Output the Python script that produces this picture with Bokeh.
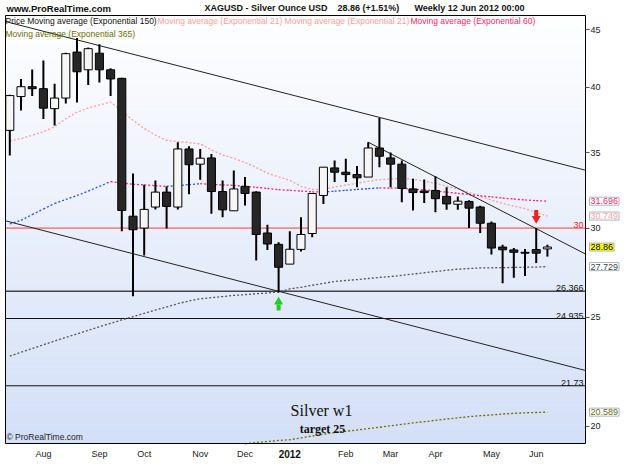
import math
import numpy as np
from bokeh.plotting import figure
from bokeh.models import Range1d, FixedTicker, PrintfTickFormatter, Label, LinearAxis, LogAxis
from bokeh.embed import file_html
from bokeh.resources import INLINE

# ---------------- data (weekly XAGUSD, Jul 11 2011 .. Jun 11 2012) ----------------
week_index = list(range(49))
opens = [36.64, 39.26, 40.06, 39.90, 38.30, 39.14, 43.00, 41.47, 42.90, 41.47,
         40.75, 30.74, 30.00, 31.32, 32.29, 31.32, 35.27, 34.19, 34.63, 32.33,
         31.08, 32.67, 32.29, 29.70, 29.02, 27.87, 28.72, 29.67, 32.07, 33.93,
         33.63, 33.47, 33.30, 35.34, 34.63, 34.19, 32.50, 32.36, 32.40, 32.01,
         31.50, 31.68, 31.32, 30.30, 28.86, 28.69, 28.55, 28.71, 28.75]
highs = [39.40, 40.70, 41.50, 42.26, 40.30, 42.95, 44.25, 43.40, 43.70, 41.60,
         40.80, 33.55, 32.78, 33.07, 32.67, 35.76, 35.46, 35.27, 34.90, 33.07,
         33.75, 33.30, 32.35, 30.20, 29.14, 29.80, 30.67, 32.20, 33.98, 34.45,
         34.57, 34.06, 35.76, 37.58, 35.02, 34.45, 33.18, 33.13, 33.35, 32.62,
         32.00, 31.75, 31.40, 30.41, 28.99, 28.80, 28.75, 30.00, 29.00]
lows = [34.80, 38.16, 39.30, 37.50, 37.00, 38.70, 38.78, 40.20, 40.40, 39.30,
        29.80, 26.10, 28.37, 31.17, 29.97, 31.17, 32.15, 33.12, 30.90, 30.67,
        31.08, 31.42, 28.08, 28.69, 26.30, 27.87, 28.60, 29.45, 31.52, 32.96,
        32.96, 32.62, 33.30, 33.98, 32.62, 31.63, 31.10, 31.58, 30.99, 31.14,
        31.15, 30.00, 29.70, 28.42, 26.80, 27.10, 27.20, 27.93, 28.30]
closes = [39.34, 40.06, 39.90, 38.34, 39.14, 42.86, 41.30, 43.30, 41.47, 40.70,
          31.10, 29.90, 31.17, 32.29, 31.36, 35.27, 34.15, 34.61, 32.33, 31.14,
          32.50, 32.20, 29.61, 29.04, 27.69, 28.73, 29.61, 32.20, 33.98, 33.63,
          33.47, 33.25, 35.34, 34.75, 34.19, 32.53, 32.26, 32.26, 31.86, 31.52,
          31.70, 31.25, 30.30, 28.80, 28.70, 28.55, 28.50, 28.50, 28.86]

ema21 = [35.85, 36.02, 36.28, 36.54, 36.91, 37.52, 38.02, 38.35, 38.59, 38.81,
         38.12, 37.40, 36.78, 36.28, 35.90, 35.81, 35.74, 35.64, 35.20, 34.84,
         34.60, 34.31, 33.96, 33.57, 33.32, 33.08, 32.68, 32.47, 32.48, 32.63,
         32.76, 32.88, 33.02, 33.12, 33.17, 33.22, 33.15, 33.02, 32.88, 32.68,
         32.49, 32.27, 32.02, 31.77, 31.55, 31.38, 31.22, 30.96, 30.749]
ema60 = [30.26, 30.48, 30.84, 31.19, 31.55, 31.81, 32.07, 32.36, 32.67, 33.00,
         32.89, 32.82, 32.77, 32.72, 32.67, 32.72, 32.79, 32.85, 32.81, 32.77,
         32.74, 32.67, 32.61, 32.53, 32.45, 32.41, 32.36, 32.31, 32.30, 32.35,
         32.41, 32.47, 32.52, 32.57, 32.56, 32.54, 32.49, 32.43, 32.37, 32.29,
         32.21, 32.13, 32.05, 31.98, 31.90, 31.84, 31.78, 31.73, 31.696]
ema150 = [23.09, 23.27, 23.45, 23.63, 23.81, 23.99, 24.16, 24.34, 24.52, 24.69,
          24.86, 25.03, 25.20, 25.37, 25.53, 25.70, 25.85, 25.96, 26.02, 26.08,
          26.14, 26.18, 26.23, 26.27, 26.33, 26.49, 26.58, 26.69, 26.79, 26.90,
          26.95, 27.00, 27.06, 27.12, 27.17, 27.23, 27.31, 27.38, 27.45, 27.52,
          27.58, 27.62, 27.65, 27.66, 27.67, 27.68, 27.69, 27.70, 27.729]
ema365_index = list(range(21, 49))
ema365 = [19.30, 19.35, 19.39, 19.43, 19.46, 19.53, 19.61, 19.68, 19.75, 19.80,
          19.85, 19.91, 19.96, 20.02, 20.08, 20.14, 20.19, 20.25, 20.30, 20.35,
          20.40, 20.44, 20.47, 20.51, 20.54, 20.56, 20.575, 20.589]

levels = [30.0, 26.366, 24.935, 21.73]
level_labels = ["30", "26.366", "24.935", "21.73"]

trend_upper_x = [-0.384, 51.4]
trend_upper_y = [45.77, 33.77]
trend_lower_x = [-0.384, 51.4]
trend_lower_y = [30.45, 22.42]
trend_feb_x = [32, 51.4]
trend_feb_y = [35.76, 28.45]

month_ticks = [3, 8, 12, 17, 21, 25, 30, 34, 38, 43, 47]
month_labels = ["Aug", "Sep", "Oct", "Nov", "Dec", "2012", "Feb", "Mar", "Apr", "May", "Jun"]
y_ticks = [20, 25, 30, 35, 40, 45]

last_close = 28.86
arrow_down_week = 47
arrow_up_week = 24

header_site = "www.ProRealTime.com"
header_parts = ["XAGUSD - Silver Ounce USD", "28.86 (+1.51%)", "Weekly  12 Jun 2012 00:00"]

# ---------------- layout helpers ----------------
W, H = 625, 469
FL, FR, FT, FB = 5, 585, 15, 443          # visible chart box (pixels)
X0, XE = -0.384, 51.4                      # data x at FL / FR
Y0, Y1 = 19.31, 46.34                      # data y at FB / FT
SX = (XE - X0) / (FR - FL)
LN0, LN1 = math.log(Y0), math.log(Y1)
K = (LN1 - LN0) / (FB - FT)


def px_x(px):
    return X0 + (px - FL) * SX


def py_y(py):
    return math.exp(LN1 - (py - FT) * K)


FONT = "Liberation Sans"

p = figure(width=W, height=H,
           x_range=Range1d(px_x(0), px_x(W)), y_range=Range1d(py_y(H), py_y(0)),
           y_axis_type="log", x_axis_location=None, y_axis_location=None,
           output_backend="svg", toolbar_location=None,
           min_border_left=0, min_border_right=0, min_border_top=0, min_border_bottom=0)
p.outline_line_color = None
p.xgrid.visible = False
p.ygrid.visible = False
p.border_fill_color = "white"
p.background_fill_color = "white"

# background gradient inside the chart box
n = 90
edges = np.linspace(FT, FB, n + 1)
top_c = np.array([255, 255, 255])
bot_c = np.array([212, 224, 248])
bands_top = [py_y(e) for e in edges[:-1]]
bands_bot = [py_y(e) for e in edges[1:]]
cols = []
for k in range(n):
    t = (k + 0.5) / n
    c = (top_c * (1 - t) + bot_c * t).astype(int)
    cols.append("#%02x%02x%02x" % tuple(c))
p.quad(left=X0, right=XE, bottom=bands_bot, top=bands_top,
       fill_color=cols, line_color=cols, line_width=0.5, level="image")

# horizontal levels
p.segment(x0=[X0] * len(levels), y0=levels, x1=[XE] * len(levels), y1=levels,
          line_color=["#ff3b3b", "#444444", "#111111", "#111111"],
          line_width=[1, 1.6, 1, 1], level="underlay")

# moving averages
p.line(week_index, ema21, line_color="#ff9c9c", line_width=1.3, line_dash="2 2")
p.line(week_index, ema150, line_color="#555555", line_width=1.3, line_dash="2 2")
p.line(ema365_index, ema365, line_color="#6e6e00", line_width=1.3, line_dash="2 2")
seg_cols = ["#2a4dff" if ema60[i + 1] > ema60[i] else "#ff1f6e" for i in range(len(ema60) - 1)]
p.segment(x0=week_index[:-1], y0=ema60[:-1], x1=week_index[1:], y1=ema60[1:],
          line_color=seg_cols, line_width=1.3, line_dash="2 2")

# trend lines
for tx, ty in [(trend_upper_x, trend_upper_y), (trend_lower_x, trend_lower_y),
               (trend_feb_x, trend_feb_y)]:
    p.line(tx, ty, line_color="#222222", line_width=1)

# candles
p.segment(x0=week_index, y0=lows, x1=week_index, y1=highs, line_color="black", line_width=2)
body_top = [max(o, c) for o, c in zip(opens, closes)]
body_bot = [min(o, c) for o, c in zip(opens, closes)]
body_fill = ["#f6f6f6" if c >= o else "#262626" for o, c in zip(opens, closes)]
p.vbar(x=week_index, width=0.72, top=body_top, bottom=body_bot,
       fill_color=body_fill, line_color="black", line_width=1)

# arrows
hi = highs[arrow_down_week]
lo = lows[arrow_up_week]
p.rect(x=[arrow_down_week], y=[hi * math.exp(K * 15)], width=4, height=6,
       width_units="screen", height_units="screen", fill_color="#ee2020", line_color=None)
p.scatter(x=[arrow_down_week], y=[hi * math.exp(K * 9.5)], marker="inverted_triangle",
          size=9, fill_color="#ee2020", line_color=None)
p.rect(x=[arrow_up_week], y=[lo * math.exp(-K * 15)], width=4, height=6,
       width_units="screen", height_units="screen", fill_color="#22cc22", line_color=None)
p.scatter(x=[arrow_up_week], y=[lo * math.exp(-K * 9.5)], marker="triangle",
          size=9, fill_color="#22cc22", line_color=None)

# chart box border
p.quad(left=[X0], right=[XE], bottom=[Y0], top=[Y1], fill_color=None,
       line_color="black", line_width=1)

# axes (pinned to the chart box edges)
yax = LogAxis(fixed_location=XE, ticker=FixedTicker(ticks=y_ticks),
              formatter=PrintfTickFormatter(format="%d"))
yax.minor_tick_line_color = None
yax.major_tick_in = 0
yax.major_tick_out = 4
yax.major_tick_line_color = "#555555"
yax.axis_line_color = None
yax.major_label_text_font = FONT
yax.major_label_text_font_size = "9px"
yax.major_label_text_color = "#222222"
yax.major_label_standoff = 1
p.add_layout(yax, "right")

xax = LinearAxis(fixed_location=Y0, ticker=FixedTicker(ticks=month_ticks))
xax.major_label_overrides = {t: ("" if l == "2012" else l) for t, l in zip(month_ticks, month_labels)}
xax.minor_tick_line_color = None
xax.major_tick_in = 0
xax.major_tick_out = 0
xax.axis_line_color = None
xax.major_label_text_font = FONT
xax.major_label_text_font_size = "9px"
xax.major_label_text_color = "#222222"
xax.major_label_standoff = 5
p.add_layout(xax, "below")

for t, l in zip(month_ticks, month_labels):
    if l == "2012":
        p.add_layout(Label(x=t, y=py_y(453.5), text=l, text_align="center", text_baseline="middle",
                           text_font=FONT, text_font_size="10px", text_font_style="bold",
                           text_color="#111111"))

# level labels inside the chart box
lvl_cols = ["#ff2020", "#111111", "#111111", "#111111"]
for lv, lt, lc in zip(levels, level_labels, lvl_cols):
    p.add_layout(Label(x=px_x(583), y=lv, text=lt, text_align="right", text_baseline="bottom",
                       text_font=FONT, text_font_size="9px", text_color=lc))

# value boxes right of the chart box
boxes = [(ema60[-1], "#ff1f6e", "white"), (ema21[-1], "#ff9c9c", "white"),
         (last_close, "#000000", "#ffff00"), (ema150[-1], "#444444", "white"),
         (ema365[-1], "#6e6e00", "white")]
for v, tc, bg in boxes:
    p.add_layout(Label(x=px_x(589), y=v, text="%g" % v, text_align="left", text_baseline="middle",
                       text_font=FONT, text_font_size="9px", text_color=tc,
                       background_fill_color=bg, border_line_color="#a9b6c6", padding=1))

# header
p.add_layout(Label(x=px_x(6), y=py_y(7.5), text=header_site, text_baseline="middle",
                   text_font=FONT, text_font_size="9.5px", text_font_style="bold", text_color="#111111"))
for pxs, txt in zip([204, 337, 414], header_parts):
    p.add_layout(Label(x=px_x(pxs), y=py_y(7.5), text=txt, text_baseline="middle",
                       text_font=FONT, text_font_size="9px", text_font_style="bold",
                       text_color="#111111"))

# legend texts
for pxs, pys, txt, col in [(5, 20.5, "Price Moving average (Exponential 150)", "#111111"),
                           (157, 20.5, "Moving average (Exponential 21) Moving average (Exponential 21)", "#ff9c9c"),
                           (410, 20.5, "Moving average (Exponential 60)", "#ff1f6e"),
                           (5, 33, "Moving average (Exponential 365)", "#6e6e00")]:
    p.add_layout(Label(x=px_x(pxs), y=py_y(pys), text=txt, text_baseline="middle",
                       text_font=FONT, text_font_size="8.5px", text_color=col))

# panel texts
p.add_layout(Label(x=px_x(321), y=py_y(410), text="Silver w1", text_align="center",
                   text_baseline="middle", text_font="Liberation Serif", text_font_size="16px",
                   text_color="#111111"))
p.add_layout(Label(x=px_x(322), y=py_y(428), text="target 25", text_align="center",
                   text_baseline="middle", text_font="Liberation Serif", text_font_size="12px",
                   text_font_style="bold", text_color="#111111"))
p.add_layout(Label(x=px_x(6), y=py_y(436.5), text="\u00a9 ProRealTime.com", text_baseline="middle",
                   text_font=FONT, text_font_size="8.5px", text_color="#222222"))

open("out.html", "w").write(file_html(p, INLINE))
